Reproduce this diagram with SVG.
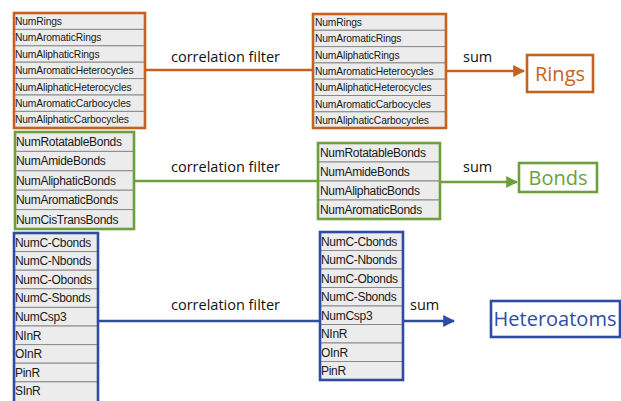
<svg xmlns="http://www.w3.org/2000/svg" width="621" height="401" viewBox="0 0 621 401">
  <style>
    .row { fill: #ececec; stroke: #8a8a8a; stroke-width: 1; }
    .cell { font-family: "Liberation Sans", Arial, sans-serif; fill: #1a1a1a; }
    .rs { font-size: 10.3px; letter-spacing: -0.15px; }
    .bs { font-size: 12px; letter-spacing: -0.3px; }
    .lbl { font-family: "Open Sans", "Liberation Sans", sans-serif; font-size: 14.5px; font-weight: 500; fill: #111; }
    .ttl { font-family: "Open Sans", "Liberation Sans", sans-serif; font-size: 20px; }
    .o { stroke: #c5621f; }
    .g { stroke: #6f9e3c; }
    .b { stroke: #2f4ca3; }
    .frame { fill: none; stroke-width: 2.6; }
    .wire { fill: none; stroke-width: 2.4; }
  </style>
  <defs>
    <marker id="arrO" viewBox="0 0 10 10" refX="9" refY="5" markerWidth="5" markerHeight="5" orient="auto" markerUnits="strokeWidth">
      <path d="M0,0 L10,5 L0,10 z" fill="#c5621f"/>
    </marker>
    <marker id="arrG" viewBox="0 0 10 10" refX="9" refY="5" markerWidth="5" markerHeight="5" orient="auto" markerUnits="strokeWidth">
      <path d="M0,0 L10,5 L0,10 z" fill="#6f9e3c"/>
    </marker>
    <marker id="arrB" viewBox="0 0 10 10" refX="9" refY="5" markerWidth="5" markerHeight="5" orient="auto" markerUnits="strokeWidth">
      <path d="M0,0 L10,5 L0,10 z" fill="#2f4ca3"/>
    </marker>
  </defs>
  <rect width="621" height="401" fill="#ffffff"/>

  <!-- connectors -->
  <g id="connectors">
    <line class="wire o" x1="145" y1="70" x2="313" y2="70"/>
    <line class="wire o" x1="446" y1="71" x2="524" y2="71" marker-end="url(#arrO)"/>
    <line class="wire g" x1="134" y1="181" x2="318" y2="181"/>
    <line class="wire g" x1="440" y1="182" x2="517" y2="182" marker-end="url(#arrG)"/>
    <line class="wire b" x1="98" y1="321" x2="320" y2="321"/>
    <line class="wire b" x1="403" y1="321" x2="454" y2="321" marker-end="url(#arrB)"/>
    <text class="lbl" x="171" y="62">correlation filter</text>
    <text class="lbl" x="463" y="62">sum</text>
    <text class="lbl" x="171" y="172">correlation filter</text>
    <text class="lbl" x="463" y="172">sum</text>
    <text class="lbl" x="171" y="310">correlation filter</text>
    <text class="lbl" x="410" y="310">sum</text>
  </g>

  <!-- ring descriptors, full set -->
  <g id="rings-all">
    <rect class="row" x="14" y="13" width="131" height="16.4"/>
    <rect class="row" x="14" y="29.4" width="131" height="16.4"/>
    <rect class="row" x="14" y="45.8" width="131" height="16.4"/>
    <rect class="row" x="14" y="62.2" width="131" height="16.4"/>
    <rect class="row" x="14" y="78.6" width="131" height="16.4"/>
    <rect class="row" x="14" y="95" width="131" height="16.4"/>
    <rect class="row" x="14" y="111.4" width="131" height="16.6"/>
    <g class="cell rs">
      <text x="15" y="25">NumRings</text>
      <text x="15" y="41.4">NumAromaticRings</text>
      <text x="15" y="57.8">NumAliphaticRings</text>
      <text x="15" y="74.2">NumAromaticHeterocycles</text>
      <text x="15" y="90.6">NumAliphaticHeterocycles</text>
      <text x="15" y="107">NumAromaticCarbocycles</text>
      <text x="15" y="123.4">NumAliphaticCarbocycles</text>
    </g>
    <rect class="frame o" x="14" y="13" width="131" height="115"/>
  </g>

  <!-- ring descriptors, kept -->
  <g id="rings-kept">
    <rect class="row" x="313" y="14" width="133" height="16.3"/>
    <rect class="row" x="313" y="30.3" width="133" height="16.3"/>
    <rect class="row" x="313" y="46.6" width="133" height="16.3"/>
    <rect class="row" x="313" y="62.9" width="133" height="16.3"/>
    <rect class="row" x="313" y="79.2" width="133" height="16.3"/>
    <rect class="row" x="313" y="95.5" width="133" height="16.3"/>
    <rect class="row" x="313" y="111.8" width="133" height="16.2"/>
    <g class="cell rs">
      <text x="315" y="26">NumRings</text>
      <text x="315" y="42.3">NumAromaticRings</text>
      <text x="315" y="58.6">NumAliphaticRings</text>
      <text x="315" y="74.9">NumAromaticHeterocycles</text>
      <text x="315" y="91.2">NumAliphaticHeterocycles</text>
      <text x="315" y="107.5">NumAromaticCarbocycles</text>
      <text x="315" y="123.8">NumAliphaticCarbocycles</text>
    </g>
    <rect class="frame o" x="313" y="14" width="133" height="114"/>
  </g>

  <g id="rings">
    <rect class="frame o" x="527" y="55" width="66" height="37" fill="#fff"/>
    <text class="ttl" x="560" y="81" text-anchor="middle" fill="#c5621f">Rings</text>
  </g>

  <!-- bond descriptors, full set -->
  <g id="bonds-all">
    <rect class="row" x="15" y="132" width="119" height="19.4"/>
    <rect class="row" x="15" y="151.4" width="119" height="19.4"/>
    <rect class="row" x="15" y="170.8" width="119" height="19.4"/>
    <rect class="row" x="15" y="190.2" width="119" height="19.4"/>
    <rect class="row" x="15" y="209.6" width="119" height="19.4"/>
    <g class="cell bs">
      <text x="16" y="146">NumRotatableBonds</text>
      <text x="16" y="165.4">NumAmideBonds</text>
      <text x="16" y="184.8">NumAliphaticBonds</text>
      <text x="16" y="204.2">NumAromaticBonds</text>
      <text x="16" y="223.6">NumCisTransBonds</text>
    </g>
    <rect class="frame g" x="15" y="132" width="119" height="97"/>
  </g>

  <!-- bond descriptors, kept -->
  <g id="bonds-kept">
    <rect class="row" x="318" y="143" width="122" height="19"/>
    <rect class="row" x="318" y="162" width="122" height="19"/>
    <rect class="row" x="318" y="181" width="122" height="19"/>
    <rect class="row" x="318" y="200" width="122" height="19"/>
    <g class="cell bs">
      <text x="320" y="157">NumRotatableBonds</text>
      <text x="320" y="176">NumAmideBonds</text>
      <text x="320" y="195">NumAliphaticBonds</text>
      <text x="320" y="214">NumAromaticBonds</text>
    </g>
    <rect class="frame g" x="318" y="143" width="122" height="76"/>
  </g>

  <g id="bonds">
    <rect class="frame g" x="519" y="163" width="78" height="29" fill="#fff"/>
    <text class="ttl" x="558" y="185" text-anchor="middle" fill="#6f9e3c">Bonds</text>
  </g>

  <!-- heteroatom descriptors, full set -->
  <g id="hetero-all">
    <rect class="row" x="14" y="233" width="84" height="18.6"/>
    <rect class="row" x="14" y="251.6" width="84" height="18.6"/>
    <rect class="row" x="14" y="270.2" width="84" height="18.6"/>
    <rect class="row" x="14" y="288.8" width="84" height="18.6"/>
    <rect class="row" x="14" y="307.4" width="84" height="18.6"/>
    <rect class="row" x="14" y="326" width="84" height="18.6"/>
    <rect class="row" x="14" y="344.6" width="84" height="18.6"/>
    <rect class="row" x="14" y="363.2" width="84" height="18.6"/>
    <rect class="row" x="14" y="381.8" width="84" height="22"/>
    <g class="cell bs">
      <text x="15" y="246.6">NumC-Cbonds</text>
      <text x="15" y="265.2">NumC-Nbonds</text>
      <text x="15" y="283.8">NumC-Obonds</text>
      <text x="15" y="302.4">NumC-Sbonds</text>
      <text x="15" y="321">NumCsp3</text>
      <text x="15" y="339.6">NInR</text>
      <text x="15" y="358.2">OInR</text>
      <text x="15" y="376.8">PinR</text>
      <text x="15" y="395.4">SInR</text>
    </g>
    <rect class="frame b" x="14" y="233" width="84" height="175"/>
  </g>

  <!-- heteroatom descriptors, kept -->
  <g id="hetero-kept">
    <rect class="row" x="320" y="232" width="83" height="18.5"/>
    <rect class="row" x="320" y="250.5" width="83" height="18.5"/>
    <rect class="row" x="320" y="269" width="83" height="18.5"/>
    <rect class="row" x="320" y="287.5" width="83" height="18.5"/>
    <rect class="row" x="320" y="306" width="83" height="18.5"/>
    <rect class="row" x="320" y="324.5" width="83" height="18.5"/>
    <rect class="row" x="320" y="343" width="83" height="18.5"/>
    <rect class="row" x="320" y="361.5" width="83" height="18.5"/>
    <g class="cell bs">
      <text x="321" y="245.5">NumC-Cbonds</text>
      <text x="321" y="264">NumC-Nbonds</text>
      <text x="321" y="282.5">NumC-Obonds</text>
      <text x="321" y="301">NumC-Sbonds</text>
      <text x="321" y="319.5">NumCsp3</text>
      <text x="321" y="338">NInR</text>
      <text x="321" y="356.5">OInR</text>
      <text x="321" y="375">PinR</text>
    </g>
    <rect class="frame b" x="320" y="232" width="83" height="148"/>
  </g>

  <g id="heteroatoms">
    <rect class="frame b" x="491" y="301" width="129" height="36" fill="#fff"/>
    <text class="ttl" x="555" y="326" text-anchor="middle" fill="#2f4ca3">Heteroatoms</text>
  </g>
</svg>
